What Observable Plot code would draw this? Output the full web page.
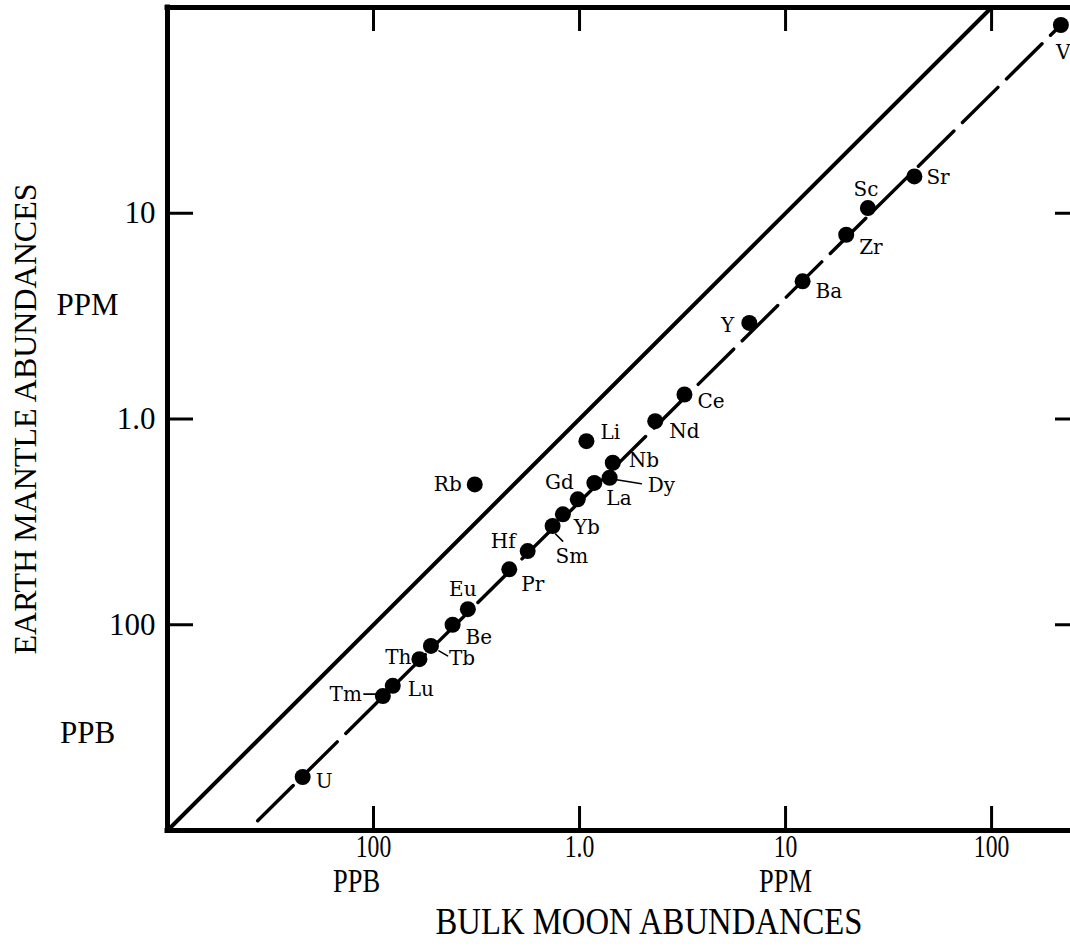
<!DOCTYPE html>
<html>
<head>
<meta charset="utf-8">
<script src="https://cdn.jsdelivr.net/npm/d3@7"></script>
<script src="https://cdn.jsdelivr.net/npm/@observablehq/plot@0.6"></script>
<style>
  html, body { margin: 0; padding: 0; background: #fff; overflow: hidden; }
  #chart svg { display: block; }
</style>
</head>
<body>
<div id="chart"></div>
<script>
// ---- data (ppm) ----
const elements = ["V","Sr","Sc","Zr","Ba","Y","Ce","Nd","Li","Nb","Dy","La","Gd","Yb","Sm","Rb","Hf","Pr","Eu","Be","Tb","Th","Lu","Tm","U"];
const moonPpm  = [217, 42.2, 25.1, 19.7, 12.1, 6.67, 3.23, 2.33, 1.08, 1.45, 1.40, 1.18, 0.98, 0.83, 0.74, 0.31, 0.56, 0.456, 0.287, 0.242, 0.190, 0.167, 0.124, 0.111, 0.0453];
const earthPpm = [82.2, 15.1, 10.6, 7.86, 4.67, 2.93, 1.315, 0.976, 0.78, 0.613, 0.518, 0.489, 0.407, 0.344, 0.302, 0.481, 0.228, 0.186, 0.119, 0.100, 0.0789, 0.068, 0.0505, 0.045, 0.0182];

// reference lines
const equalLineX = [0.0102, 100];
const equalLineY = [0.0102, 100];
const trendLineX = [0.0274, 217];
const trendLineY = [0.01116, 82.2];

// axes
const xDomain = [0.01, 241.6];
const yDomain = [0.01, 100];
const xTicks = [0.1, 1, 10, 100];
const xTickLabels = ["100", "1.0", "10", "100"];
const yTicks = [0.1, 1, 10];
const yTickLabels = ["100", "1.0", "10"];
const xUnitLabels = ["PPB", "PPM"];
const xUnitAt = [0.1, 10];
const yUnitLabels = ["PPM", "PPB"];
const yUnitAt = [1, 0.1];
const xTitle = "BULK MOON ABUNDANCES";
const yTitle = "EARTH MANTLE ABUNDANCES";

// ---- label placement (style only) ----
const labelPlacement = {
  V:  ["start", -5, 28],  Sr: ["start", 12, 1],   Sc: ["middle", -2, -18], Zr: ["start", 13, 13],
  Ba: ["start", 13, 10],  Y:  ["end", -15, 3],    Ce: ["start", 13, 7],    Nd: ["start", 14, 10],
  Li: ["start", 14, -9],  Nb: ["start", 16, -2],  Dy: ["start", 38, 8],    La: ["start", 12, 16],
  Gd: ["end", -4, -17],   Yb: ["start", 11, 13],  Sm: ["start", 3, 31],    Rb: ["end", -13, 0],
  Hf: ["end", -12, -10],  Pr: ["start", 12, 15],  Eu: ["middle", -5, -20], Be: ["start", 13, 13],
  Tb: ["start", 18, 13],  Th: ["end", -8, -2],    Lu: ["start", 15, 4],    Tm: ["end", -21, -2],
  U:  ["start", 13, 5]
};
// leader lines: [dx, dy, length, rotate]
const leaders = {
  Tm: [-19, -2, 14, 90],
  Tb: [8, 5, 10, 120],
  Dy: [7, 2, 25, 99],
  Sm: [3, 8, 10, 135]
};

const data = elements.map((el, i) => ({el, moon: moonPpm[i], earth: earthPpm[i]}));
const eqLine = equalLineX.map((x, i) => ({x, y: equalLineY[i]}));
const trLine = trendLineX.map((x, i) => ({x, y: trendLineY[i]}));

const serif = "Liberation Serif";
const labelFont = "DejaVu Serif";
const lineShape = {draw(context, l) { context.moveTo(0, 0); context.lineTo(0, -l); }};

const marks = [
  // frame (left, bottom, top)
  Plot.ruleX([xDomain[0]], {stroke: "#000", strokeWidth: 5, strokeLinecap: "square"}),
  Plot.ruleY([yDomain[0], yDomain[1]], {stroke: "#000", strokeWidth: 5, strokeLinecap: "square"}),
  // inward ticks
  Plot.tickX(xTicks, {x: d => d, insetTop: 799, stroke: "#000", strokeWidth: 3}),
  Plot.tickX(xTicks, {x: d => d, insetBottom: 799, stroke: "#000", strokeWidth: 3}),
  Plot.tickY(yTicks, {y: d => d, insetRight: 877, stroke: "#000", strokeWidth: 3}),
  Plot.tickY(yTicks, {y: d => d, insetLeft: 888, stroke: "#000", strokeWidth: 3}),
  // lines
  Plot.line(eqLine, {x: "x", y: "y", stroke: "#000", strokeWidth: 4}),
  Plot.line(trLine, {x: "x", y: "y", stroke: "#000", strokeWidth: 3.4, strokeDasharray: "50,12"}),
  // leader lines
  ...Object.entries(leaders).map(([el, [dx, dy, len, rot]]) => {
    const d = data.find(p => p.el === el);
    return Plot.vector([d], {x: "moon", y: "earth", dx, dy, length: len, rotate: rot,
      anchor: "start", shape: lineShape, stroke: "#000", strokeWidth: 1.6});
  }),
  // points
  Plot.dot(data, {x: "moon", y: "earth", r: 8, fill: "#000", stroke: "none"}),
  // point labels
  ...data.map(d => {
    const [anchor, dx, dy] = labelPlacement[d.el];
    return Plot.text([d], {x: "moon", y: "earth", text: "el", textAnchor: anchor, dx, dy,
      fontSize: 20, fontFamily: labelFont, fill: "#000"});
  }),
  // y tick labels
  Plot.text(yTicks, {y: d => d, text: (d, i) => yTickLabels[i], frameAnchor: "left", textAnchor: "end",
    dx: -12, fontSize: 31, fontFamily: serif, fill: "#000"}),
  // x tick labels
  Plot.text(xTicks, {x: d => d, text: (d, i) => xTickLabels[i], frameAnchor: "bottom", textAnchor: "middle", dy: 26,
    fontSize: 32, fontFamily: serif, fill: "#000", ariaDescription: "xaxis-ticks"}),
  // x units
  Plot.text([0], {x: () => xUnitAt[0], text: () => xUnitLabels[0], frameAnchor: "bottom", textAnchor: "middle", dx: -17, dy: 61,
    fontSize: 33, fontFamily: serif, fill: "#000", ariaDescription: "xaxis-units"}),
  Plot.text([1], {x: () => xUnitAt[1], text: () => xUnitLabels[1], frameAnchor: "bottom", textAnchor: "middle", dx: 0, dy: 61,
    fontSize: 33, fontFamily: serif, fill: "#000", ariaDescription: "xaxis-units"}),
  // y units
  Plot.text([0], {y: () => yUnitAt[0], text: () => yUnitLabels[0], frameAnchor: "left", textAnchor: "middle", dx: -80, dy: -114,
    fontSize: 31, fontFamily: serif, fill: "#000"}),
  Plot.text([1], {y: () => yUnitAt[1], text: () => yUnitLabels[1], frameAnchor: "left", textAnchor: "middle", dx: -80, dy: 108,
    fontSize: 31, fontFamily: serif, fill: "#000"}),
  // titles
  Plot.text([yTitle], {text: d => d, frameAnchor: "left", textAnchor: "middle", rotate: -90, dx: -142,
    fontSize: 32, fontFamily: serif, fill: "#000"}),
  Plot.text([xTitle], {text: d => d, frameAnchor: "bottom", textAnchor: "middle", dx: 30, dy: 103,
    fontSize: 37, fontFamily: serif, fill: "#000", ariaDescription: "xaxis-title"})
];

const chart = Plot.plot({
  width: 1070,
  height: 950,
  marginLeft: 167,
  marginRight: 0,
  marginTop: 7,
  marginBottom: 120,
  style: {background: "#fff", fontFamily: serif, overflow: "visible"},
  x: {type: "log", domain: xDomain, axis: null},
  y: {type: "log", domain: yDomain, axis: null},
  marks
});
document.getElementById("chart").appendChild(chart);

// condensed look for the x-axis texts
function condense(selector, factor, fixed) {
  d3.select(chart).selectAll(selector).each(function () {
    const w = fixed ?? this.getComputedTextLength() * factor;
    this.setAttribute("textLength", w.toFixed(1));
    this.setAttribute("lengthAdjust", "spacingAndGlyphs");
  });
}
condense('g[aria-description="xaxis-ticks"] text', 0.74);
condense('g[aria-description="xaxis-units"] text', 0.8);
condense('g[aria-description="xaxis-title"] text', 1, 427);
</script>
</body>
</html>
